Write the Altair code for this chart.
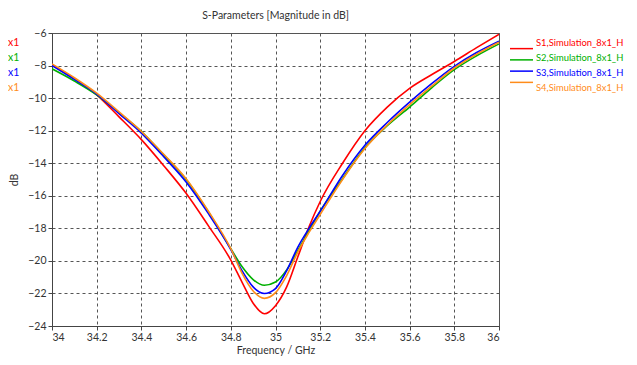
import altair as alt
import pandas as pd

freq = [34.0, 34.1, 34.2, 34.3, 34.4, 34.5, 34.6, 34.7, 34.8, 34.85, 34.9, 34.95,
        35.0, 35.05, 35.1, 35.15, 35.2, 35.3, 35.4, 35.5, 35.6, 35.7, 35.8, 35.9, 36.0]

s1 = [-7.95, -8.8, -9.8, -11.15, -12.55, -14.15, -15.85, -17.85, -19.95, -21.3, -22.6, -23.25,
      -22.75, -21.6, -19.75, -17.9, -16.35, -14.0, -12.0, -10.55, -9.4, -8.55, -7.75, -6.9, -6.08]
s2 = [-8.2, -8.95, -9.8, -10.9, -12.05, -13.5, -15.0, -17.0, -19.25, -20.35, -21.15, -21.5,
      -21.3, -20.55, -19.35, -18.15, -16.95, -14.95, -13.05, -11.7, -10.55, -9.35, -8.25, -7.4, -6.67]
s3 = [-8.0, -8.85, -9.75, -10.95, -12.15, -13.6, -15.15, -17.1, -19.3, -20.6, -21.6, -22.0,
      -21.7, -20.6, -19.15, -18.0, -16.95, -14.75, -12.9, -11.5, -10.25, -9.1, -8.05, -7.2, -6.5]
s4 = [-7.9, -8.75, -9.7, -10.85, -12.05, -13.45, -14.95, -16.95, -19.25, -20.75, -21.85, -22.3,
      -21.95, -20.9, -19.45, -18.25, -17.15, -15.0, -13.1, -11.65, -10.4, -9.25, -8.15, -7.3, -6.57]

names = ["S1,Simulation_8x1_H", "S2,Simulation_8x1_H", "S3,Simulation_8x1_H", "S4,Simulation_8x1_H"]
colors = ["#ff0000", "#00b000", "#0000ff", "#ff8c1a"]
clipped = ["x1", "x1", "x1", "x1"]

x_ticks = [34, 34.2, 34.4, 34.6, 34.8, 35, 35.2, 35.4, 35.6, 35.8, 36]
y_ticks = [-24, -22, -20, -18, -16, -14, -12, -10, -8, -6]

rows = []
for name, vals in zip(names, [s1, s2, s3, s4]):
    for f, v in zip(freq, vals):
        rows.append({"freq": f, "db": v, "series": name})
df = pd.DataFrame(rows)
leg = pd.DataFrame({"series": names, "short": clipped})

FONT = "Lato"
color = alt.Color("series:N", scale=alt.Scale(domain=names, range=colors), legend=None)

lines = alt.Chart(df).mark_line(strokeWidth=1.6, interpolate="monotone", clip=True).encode(
    x=alt.X("freq:Q", scale=alt.Scale(domain=[34, 36], nice=False, zero=False),
            axis=alt.Axis(values=x_ticks, format="~g", title="Frequency / GHz")),
    y=alt.Y("db:Q", scale=alt.Scale(domain=[-24, -6], nice=False, zero=False),
            axis=alt.Axis(values=y_ticks, title="dB")),
    color=color,
)

ly = alt.Y("series:N", scale=alt.Scale(domain=names, range=[10, 55], padding=0), axis=None)

leg_rule = alt.Chart(leg).mark_rule(strokeWidth=1.5).encode(
    x=alt.value(458), x2=alt.value(481), y=ly, color=color)
leg_text = alt.Chart(leg).mark_text(align="left", baseline="middle", font=FONT, fontSize=9.4).encode(
    x=alt.value(484), y=ly, text="series:N", color=color)
left_text = alt.Chart(leg).mark_text(align="left", baseline="middle", font=FONT, fontSize=10.5).encode(
    x=alt.value(-44), y=ly, text="short:N", color=color)

chart = alt.layer(lines, leg_rule, leg_text, left_text).resolve_scale(y="independent").properties(
    width=447, height=293,
    padding={"left": 44, "top": 25, "right": 130, "bottom": 31},
    autosize=alt.AutoSizeParams(type="none"),
    title=alt.TitleParams("S-Parameters [Magnitude in dB]", font=FONT, fontSize=10.5,
                          fontWeight="normal", color="#333", anchor="middle", offset=7),
).configure_view(stroke="#555", strokeWidth=1).configure_axis(
    labelFont=FONT, labelFontSize=10.5, labelColor="#333",
    titleFont=FONT, titleFontSize=10.5, titleFontWeight="normal", titleColor="#333",
    domainColor="#444", tickColor="#444", tickSize=4, labelPadding=2,
    gridColor="#555", gridDash=[3, 3], gridOpacity=1, gridWidth=1,
).configure_axisX(titlePadding=3).configure_axisY(titlePadding=8)

chart.save("out.html", embed_options={"renderer": "svg", "actions": False})
